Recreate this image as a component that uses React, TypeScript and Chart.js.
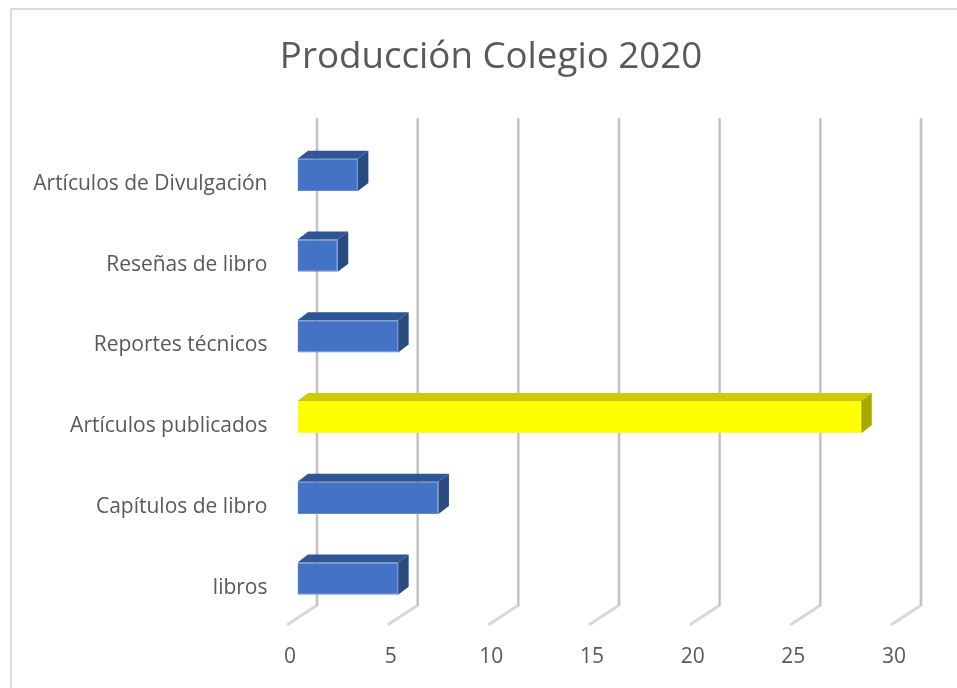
import React, { useEffect, useRef } from "react";
import { Chart, registerables } from "chart.js";

Chart.register(...registerables);

const categories = [
  "Artículos de Divulgación",
  "Reseñas de libro",
  "Reportes técnicos",
  "Artículos publicados",
  "Capítulos de libro",
  "libros",
];
const values = [3, 2, 5, 28, 7, 5];
const frontColors = ["#4472c4", "#4472c4", "#4472c4", "#ffff00", "#4472c4", "#4472c4"];
const topColors = ["#2f5597", "#2f5597", "#2f5597", "#cccc00", "#2f5597", "#2f5597"];
const sideColors = ["#2a4a80", "#2a4a80", "#2a4a80", "#a8a800", "#2a4a80", "#2a4a80"];
const edgeColors = ["#6488cf", "#6488cf", "#6488cf", "#f5f540", "#6488cf", "#6488cf"];
const title = "Producción Colegio 2020";

const DEPTH_X = 10.5;
const DEPTH_Y = 8;
const FONT = "'Open Sans', 'Noto Sans', sans-serif";

const wallPlugin = {
  id: "wall3d",
  beforeDatasetsDraw(chart: any) {
    const { ctx, scales } = chart;
    const xs = scales.x;
    const top = chart.chartArea.top - 15.5;
    const bottom = chart.chartArea.bottom - 13.8;
    ctx.save();
    ctx.lineCap = "round";
    xs.ticks.forEach((_: any, i: number) => {
      const x = xs.getPixelForTick(i);
      ctx.beginPath();
      ctx.moveTo(x + 19.5, top);
      ctx.lineTo(x + 19.5, bottom);
      ctx.lineTo(x - 9.5, bottom + 19);
      ctx.strokeStyle = "#d8d8d8";
      ctx.lineWidth = 3;
      ctx.stroke();
      ctx.beginPath();
      ctx.moveTo(x + 19.5, top);
      ctx.lineTo(x + 19.5, bottom);
      ctx.strokeStyle = "#bdbdbd";
      ctx.lineWidth = 1.4;
      ctx.stroke();
    });
    ctx.restore();
  },
  afterDatasetsDraw(chart: any) {
    const { ctx } = chart;
    const meta = chart.getDatasetMeta(0);
    ctx.save();
    meta.data.forEach((bar: any, i: number) => {
      const h = bar.height / 2;
      const left = bar.base;
      const right = bar.x;
      const t = bar.y - h;
      const b = bar.y + h;
      ctx.fillStyle = topColors[i];
      ctx.beginPath();
      ctx.moveTo(left, t);
      ctx.lineTo(left + DEPTH_X, t - DEPTH_Y);
      ctx.lineTo(right + DEPTH_X, t - DEPTH_Y);
      ctx.lineTo(right, t);
      ctx.closePath();
      ctx.fill();
      ctx.fillStyle = sideColors[i];
      ctx.beginPath();
      ctx.moveTo(right, t);
      ctx.lineTo(right + DEPTH_X, t - DEPTH_Y);
      ctx.lineTo(right + DEPTH_X, b - DEPTH_Y);
      ctx.lineTo(right, b);
      ctx.closePath();
      ctx.fill();
    });
    ctx.restore();
  },
};

export default function App() {
  const ref = useRef<HTMLCanvasElement>(null);
  useEffect(() => {
    const chart = new Chart(ref.current!, {
      type: "bar",
      data: {
        labels: categories,
        datasets: [
          {
            data: values,
            backgroundColor: frontColors,
            borderColor: edgeColors,
            borderWidth: 1,
            barPercentage: 0.4,
            categoryPercentage: 1,
          },
        ],
      },
      options: {
        indexAxis: "y",
        responsive: false,
        animation: false,
        layout: { padding: { left: 25, right: 0, top: 0, bottom: 0 } },
        plugins: {
          legend: { display: false },
          tooltip: { enabled: false },
          title: {
            display: true,
            text: title,
            color: "#595959",
            font: { family: FONT, size: 36.7, weight: "normal" },
            padding: { top: 36, bottom: 54.5 },
          },
        },
        scales: {
          x: {
            min: 0,
            max: 30,
            grid: { display: false },
            border: { display: false },
            ticks: {
              stepSize: 5,
              color: "#595959",
              font: { family: FONT, size: 21 },
              labelOffset: -7.5,
              padding: 17,
              maxRotation: 0,
              autoSkip: false,
            },
            afterFit(scale: any) {
              scale.height = 69;
            },
          },
          y: {
            grid: { display: false },
            border: { display: false },
            ticks: {
              color: "#595959",
              font: { family: FONT, size: 21 },
              labelOffset: 9,
              padding: 22,
              autoSkip: false,
            },
            afterFit(scale: any) {
              scale.width = 272.5;
            },
          },
          rightGutter: {
            type: "linear",
            position: "right",
            grid: { display: false },
            border: { display: false },
            ticks: { display: false },
            afterFit(scale: any) {
              scale.width = 55.5;
            },
          },
        },
      } as any,
      plugins: [wallPlugin],
    });
    return () => chart.destroy();
  }, []);
  return (
    <div style={{ position: "fixed", left: 0, top: 0, width: 957, height: 688, background: "#fff", overflow: "hidden" }}>
      <div style={{ position: "absolute", left: 10, top: 8, right: 0, bottom: 0, borderLeft: "2px solid #dcdcdc", borderTop: "2px solid #dcdcdc" }} />
      <canvas ref={ref} width={957} height={688} style={{ position: "absolute", left: 0, top: 0, display: "block" }} />
    </div>
  );
}
